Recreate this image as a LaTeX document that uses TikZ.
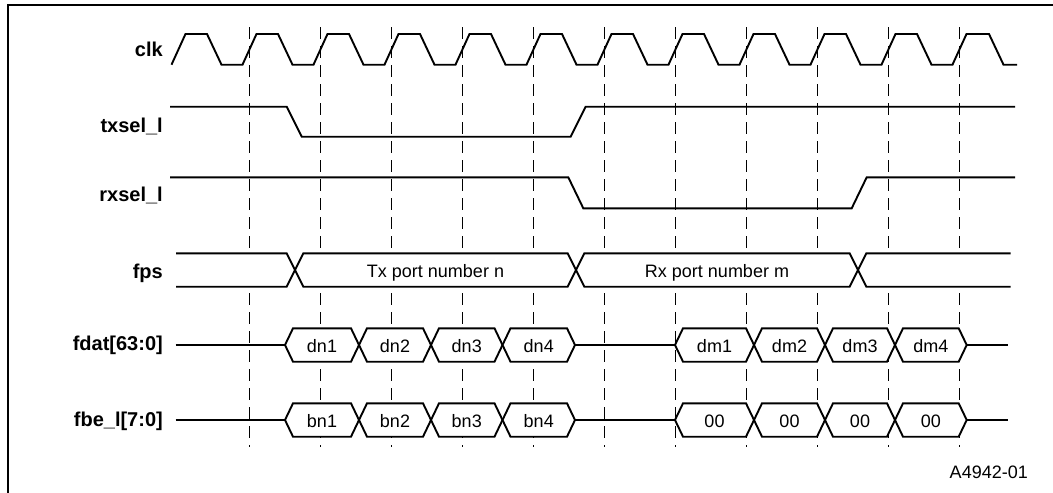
\documentclass[tikz,border=0pt]{standalone}
\usepackage{fontspec}
\setmainfont{Liberation Sans}
\begin{document}
\begin{tikzpicture}[x=1pt,y=-1pt,
  sig/.style={line width=1.9pt, line join=miter},
  grid/.style={line width=1.2pt, dash pattern=on 12pt off 7pt},
  bus/.style={line width=1.9pt, fill=white, line join=miter},
  lbl/.style={anchor=base east, inner sep=0pt, font=\fontsize{20}{24}\selectfont\bfseries},
  val/.style={anchor=base, inner sep=0pt, font=\fontsize{18}{22}\selectfont}]
\useasboundingbox (0,0) rectangle (1053,493);
% frame (top and left edges visible)
\draw[line width=2pt] (8.3,493) -- (8.3,5) -- (1053,5);
% dashed clock reference lines
\foreach \k in {1,...,11} \draw[grid] ({178.5+71*\k},27) -- ({178.5+71*\k},447);
% signal names
\node[lbl] (nclk) at (163,56.7) {clk};
\node[lbl] (ntx) at (163,132.7) {txsel\_l};
\node[lbl] (nrx) at (163,201.7) {rxsel\_l};
\node[lbl] (nfps) at (163,278.3) {fps};
\node[lbl] (nfdat) at (163,350.7) {fdat[63:0]};
\node[lbl] (nfbe) at (163,426) {fbe\_l[7:0]};
% clock
\draw[sig] (171.5,64.7)
  \foreach \k in {0,...,10} {
    -- ({178.5+71*\k+7},34) -- ({178.5+71*\k+28.5},34)
    -- ({178.5+71*\k+43},64.7) -- ({178.5+71*\k+64},64.7) }
  -- (966.5,34) -- (989,34) -- (1003.5,64.7) -- (1017,64.7);
% txsel_l
\draw[sig] (170,106.7) -- (286.7,106.7) -- (301.7,136.7) -- (570.7,136.7)
  -- (585.7,106.7) -- (1015,106.7);
% rxsel_l
\draw[sig] (170,177.3) -- (568.3,177.3) -- (583.3,208.3) -- (851.7,208.3)
  -- (866.7,177.3) -- (1015,177.3);
% fps bus
\fill[white] (176,253.3) rectangle (1010.7,286.7);
\draw[sig] (176,253.3) -- (286.7,253.3) -- (303.3,286.7) -- (567.7,286.7)
  -- (584.3,253.3) -- (849.7,253.3) -- (866.3,286.7) -- (1010.7,286.7);
\draw[sig] (176,286.7) -- (286.7,286.7) -- (303.3,253.3) -- (567.7,253.3)
  -- (584.3,286.7) -- (849.7,286.7) -- (866.3,253.3) -- (1010.7,253.3);
\node[val] (ptx) at (435.5,277.3) {Tx port number n};
\node[val] (prx) at (717,277.3) {Rx port number m};
% fdat bus
\draw[sig] (175.7,345) -- (285,345);
\draw[sig] (575,345) -- (675,345);
\draw[sig] (966.7,345) -- (1008.3,345);
\foreach \l/\r/\t [count=\i] in {285/359/dn1, 359/431/dn2, 431/502.5/dn3, 502.5/575/dn4,
    675/754/dm1, 754/825/dm2, 825/895/dm3, 895/966.7/dm4} {
  \draw[bus] (\l,345) -- ({\l+8},328.3) -- ({\r-8},328.3) -- (\r,345)
    -- ({\r-8},361.7) -- ({\l+8},361.7) -- cycle;
  \node[val] (d\i) at ({(\l+\r)/2},352.3) {\t};
}
% fbe_l bus
\draw[sig] (175.7,420) -- (285,420);
\draw[sig] (575,420) -- (675,420);
\draw[sig] (966.7,420) -- (1008.3,420);
\foreach \l/\r/\t [count=\i] in {285/359/bn1, 359/431/bn2, 431/502.5/bn3, 502.5/575/bn4,
    675/754/00, 754/825/00, 825/895/00, 895/966.7/00} {
  \draw[bus] (\l,420) -- ({\l+8},403.3) -- ({\r-8},403.3) -- (\r,420)
    -- ({\r-8},436.7) -- ({\l+8},436.7) -- cycle;
  \node[val] (b\i) at ({(\l+\r)/2},427.3) {\t};
}
% figure number
\node[val, anchor=base east] (fig) at (1028,478.3) {A4942-01};
\end{tikzpicture}
\end{document}
